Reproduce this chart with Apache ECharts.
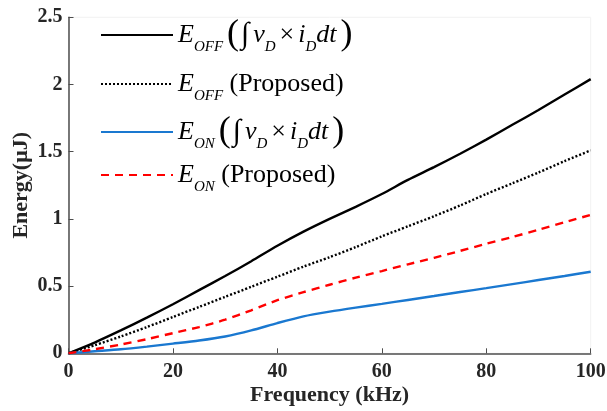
<!DOCTYPE html>
<html>
<head>
<meta charset="utf-8">
<script src="https://cdn.jsdelivr.net/npm/echarts@6/dist/echarts.min.js"></script>
<style>html,body{margin:0;padding:0;background:#fff}#c{width:607px;height:411px}</style>
</head>
<body>
<div id="c"></div>
<script>
const freq = [0,5,10,15,20,25,30,35,40,45,50,55,60,65,70,75,80,85,90,95,100];
const eOffInt  = [0,0.08,0.17,0.265,0.365,0.47,0.575,0.685,0.80,0.905,1.0,1.09,1.185,1.29,1.385,1.485,1.59,1.70,1.81,1.925,2.04];
const eOffProp = [0,0.06,0.125,0.195,0.27,0.345,0.42,0.495,0.57,0.645,0.715,0.79,0.87,0.945,1.02,1.10,1.185,1.265,1.345,1.43,1.51];
const eOnInt   = [0,0.015,0.03,0.05,0.072,0.095,0.125,0.17,0.225,0.275,0.31,0.34,0.368,0.397,0.426,0.456,0.485,0.515,0.545,0.575,0.607];
const eOnProp  = [0,0.03,0.065,0.105,0.15,0.195,0.25,0.32,0.395,0.455,0.51,0.563,0.612,0.662,0.71,0.762,0.815,0.865,0.92,0.975,1.03];
const yTicks = [0,0.5,1,1.5,2,2.5];
const xTicks = [0,20,40,60,80,100];
const names = ['EOFF_int','EOFF_prop','EON_int','EON_prop'];

const pairs = a => freq.map((f,i)=>[f,a[i]]);
const SERIF = '"Liberation Serif","Times New Roman",serif';

const rich = {
  e:{fontFamily:SERIF,fontStyle:'italic',fontSize:26,lineHeight:40,color:'#000'},
  s:{fontFamily:SERIF,fontStyle:'italic',fontSize:15,lineHeight:28,verticalAlign:'bottom',color:'#000'},
  p:{fontFamily:SERIF,fontSize:36,lineHeight:40,color:'#000',padding:[0,2,0,4]},
  i:{fontFamily:SERIF,fontSize:30,lineHeight:40,color:'#000',padding:[0,4,0,0]},
  v:{fontFamily:SERIF,fontStyle:'italic',fontSize:26,lineHeight:40,color:'#000'},
  x:{fontFamily:SERIF,fontSize:26,lineHeight:40,color:'#000',padding:[0,4,0,4]},
  t:{fontFamily:SERIF,fontSize:26,lineHeight:40,color:'#000'}
};
const labels = {
  EOFF_int:'{e|E}{s|OFF}{p|(}{i|∫}{v|v}{s|D}{x|×}{v|i}{s|D}{v|dt}{p|)}',
  EOFF_prop:'{e|E}{s|OFF}{t| (Proposed)}',
  EON_int:'{e|E}{s|ON}{p|(}{i|∫}{v|v}{s|D}{x|×}{v|i}{s|D}{v|dt}{p|)}',
  EON_prop:'{e|E}{s|ON}{t| (Proposed)}'
};
const legends = names.map((n,k)=>({
  data:[n], left:95, top:[12,66,109,157][k], orient:'vertical',
  itemWidth:72, itemHeight:14, itemGap:0,
  itemStyle:{opacity:0},
  formatter: nm => labels[nm],
  textStyle:{rich:rich}
}));

const chart = echarts.init(document.getElementById('c'));
chart.setOption({
  animation:false,
  backgroundColor:'#fff',
  grid:{left:68.5,right:16.3,top:17.3,bottom:57.7,outerBoundsMode:'none',containLabel:false,
    show:true,borderColor:'#f2f2f2',borderWidth:1},
  legend:legends,
  xAxis:{
    type:'value',min:0,max:100,interval:20,
    name:'Frequency (kHz)',nameLocation:'middle',nameGap:31,nameMoveOverlap:false,
    nameTextStyle:{fontFamily:SERIF,fontWeight:'bold',fontSize:22,color:'#262626'},
    axisLine:{lineStyle:{color:'#4d4d4d',width:1.5}},
    axisTick:{inside:true,length:5,lineStyle:{color:'#4d4d4d'}},
    axisLabel:{fontFamily:SERIF,fontWeight:'bold',fontSize:20,color:'#262626',margin:9,
      formatter:v=>xTicks.includes(v)?String(v):''},
    splitLine:{show:false}
  },
  yAxis:{
    type:'value',min:0,max:2.5,interval:0.5,
    name:'Energy(μJ)',nameLocation:'middle',nameGap:36,nameMoveOverlap:false,
    nameTextStyle:{fontFamily:SERIF,fontWeight:'bold',fontSize:22,color:'#262626'},
    axisLine:{show:true,lineStyle:{color:'#4d4d4d',width:1.5}},
    axisTick:{show:true,inside:true,length:5,lineStyle:{color:'#4d4d4d'}},
    axisLabel:{fontFamily:SERIF,fontWeight:'bold',fontSize:20,color:'#262626',margin:6,
      formatter:v=>yTicks.includes(v)?String(v):''},
    splitLine:{show:false}
  },
  series:[
    {name:names[0],type:'line',data:pairs(eOffInt),symbol:'none',smooth:0.25,
      lineStyle:{color:'#000',width:2.4},itemStyle:{color:'#000'}},
    {name:names[1],type:'line',data:pairs(eOffProp),symbol:'none',smooth:0.25,
      lineStyle:{color:'#000',width:2.4,type:[2,2]},itemStyle:{color:'#000'}},
    {name:names[2],type:'line',data:pairs(eOnInt),symbol:'none',smooth:0.25,
      lineStyle:{color:'#1a78d0',width:2.4},itemStyle:{color:'#1a78d0'}},
    {name:names[3],type:'line',data:pairs(eOnProp),symbol:'none',smooth:0.25,
      lineStyle:{color:'#ff0000',width:2.4,type:[8,6]},itemStyle:{color:'#ff0000'}}
  ]
});
</script>
</body>
</html>
